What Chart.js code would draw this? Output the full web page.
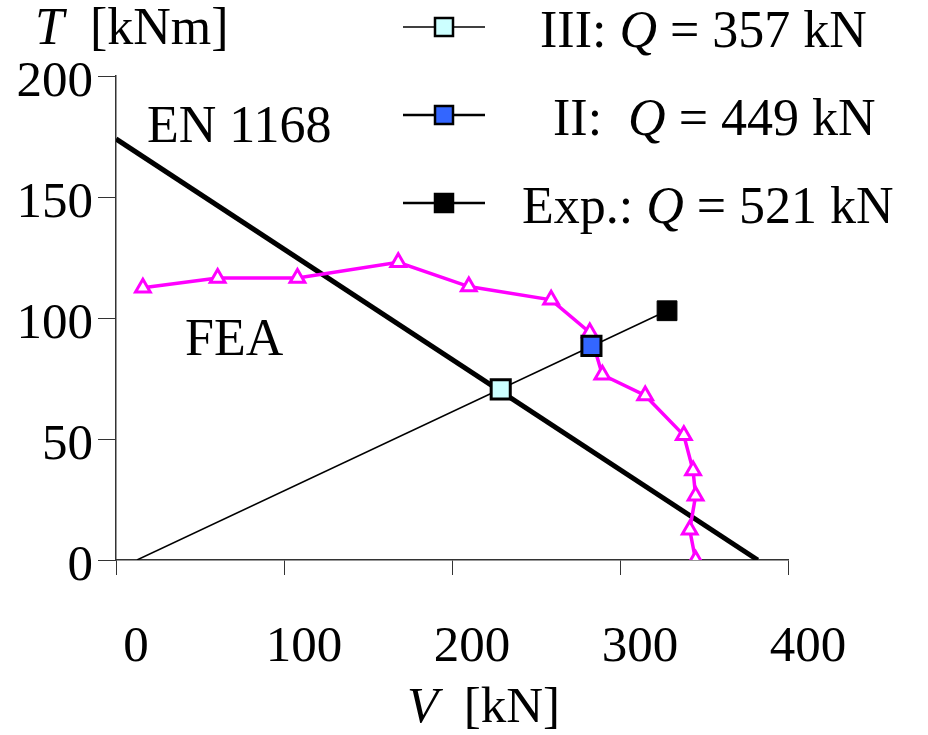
<!DOCTYPE html>
<html>
<head>
<meta charset="utf-8">
<script src="https://cdn.jsdelivr.net/npm/chart.js@4"></script>
<style>
    html, body { margin: 0; padding: 0; background: #fff; }
</style>
</head>
<body>
<canvas id="myChart" width="928" height="735"></canvas>
<script>
// EN 1168 interaction line
const enV = [0, 382];
const enT = [174, 0];

// load line through the three test points
const loadV = [12.5, 328];
const loadT = [0, 103];

// FEA curve
const feaV = [16, 60.5, 108, 168, 210, 259, 282, 289.5, 315, 338, 343.5, 345, 341.5, 345];
const feaT = [112.5, 116.5, 116.5, 123, 113, 107.5, 94, 76.5, 68, 51.5, 37, 26.5, 12.5, 0];

// test points
const testNames = ['III', 'II', 'Exp.'];
const testLoads = [357, 449, 521];
const testV = [229, 283, 328];
const testT = [70.5, 88.5, 103];
const testColors = ['#ccffff', '#3366ff', '#000000'];

const FONT = '"Liberation Serif", "Times New Roman", serif';

function pts(xs, ys) {
    return xs.map((x, i) => ({x: x, y: ys[i]}));
}

// draws a line of text made of [text, italic] parts
function drawRich(ctx, parts, x, y, size) {
    ctx.textBaseline = 'alphabetic';
    ctx.textAlign = 'left';
    parts.forEach(p => {
        ctx.font = (p[1] ? 'italic ' : '') + size + 'px ' + FONT;
        ctx.fillText(p[0], x, y);
        x += ctx.measureText(p[0]).width;
    });
}

const textPlugin = {
    id: 'texts',
    afterDraw(chart) {
        const ctx = chart.ctx;
        ctx.save();
        ctx.fillStyle = '#000';

        // axis titles
        drawRich(ctx, [['T', true], ['  [kNm]', false]], 35, 44, 52);
        drawRich(ctx, [['V', true], ['  [kN]', false]], 407, 722, 51);

        // curve labels
        drawRich(ctx, [['EN 1168', false]], 147, 142, 52);
        drawRich(ctx, [['FEA', false]], 185, 355, 52);

        // legend
        const rowY = [27, 115, 203];
        const textX = [540, 553, 522];
        testNames.forEach((name, i) => {
            const y = rowY[i];
            ctx.strokeStyle = '#000';
            ctx.lineWidth = i === 0 ? 1.5 : 2.5;
            ctx.beginPath();
            ctx.moveTo(403, y);
            ctx.lineTo(485, y);
            ctx.stroke();
            ctx.fillStyle = testColors[i];
            ctx.fillRect(435, y - 9, 18, 18);
            ctx.lineWidth = 2.5;
            ctx.strokeRect(435, y - 9, 18, 18);
            ctx.fillStyle = '#000';
            const sep = i === 1 ? ':  ' : ': ';
            drawRich(ctx, [[name + sep, false], ['Q', true], [' = ' + testLoads[i] + ' kN', false]],
                textX[i], y + 20, 52);
        });
        ctx.restore();
    }
};

new Chart(document.getElementById('myChart'), {
    type: 'scatter',
    data: {
        datasets: [
            {
                label: 'III',
                data: pts([testV[0]], [testT[0]]),
                pointStyle: 'rect',
                pointRadius: 13.5,
                backgroundColor: testColors[0],
                borderColor: '#000',
                borderWidth: 3,
                order: 1
            },
            {
                label: 'II',
                data: pts([testV[1]], [testT[1]]),
                pointStyle: 'rect',
                pointRadius: 13.5,
                backgroundColor: testColors[1],
                borderColor: '#000',
                borderWidth: 3,
                order: 1
            },
            {
                label: 'Exp.',
                data: pts([testV[2]], [testT[2]]),
                pointStyle: 'rect',
                pointRadius: 14,
                backgroundColor: testColors[2],
                borderColor: '#000',
                borderWidth: 1,
                order: 1
            },
            {
                label: 'FEA',
                data: pts(feaV, feaT),
                showLine: true,
                borderColor: '#ff00ff',
                borderWidth: 3.5,
                pointStyle: 'triangle',
                pointRadius: 8.5,
                pointBorderWidth: 3,
                pointBackgroundColor: '#fff',
                pointBorderColor: '#ff00ff',
                order: 2
            },
            {
                label: 'Load line',
                data: pts(loadV, loadT),
                showLine: true,
                borderColor: '#000',
                borderWidth: 1.5,
                pointRadius: 0,
                order: 3
            },
            {
                label: 'EN 1168',
                data: pts(enV, enT),
                showLine: true,
                borderColor: '#000',
                borderWidth: 5,
                pointRadius: 0,
                order: 4
            }
        ]
    },
    options: {
        responsive: false,
        animation: false,
        layout: {
            padding: {top: 76, right: 140, left: 0, bottom: 0}
        },
        plugins: {
            legend: {display: false},
            tooltip: {enabled: false}
        },
        scales: {
            x: {
                type: 'linear',
                min: 0,
                max: 400,
                ticks: {
                    stepSize: 100,
                    color: '#000',
                    font: {family: FONT, size: 51},
                    labelOffset: 20,
                    padding: 42,
                    maxRotation: 0
                },
                grid: {
                    drawOnChartArea: false,
                    tickLength: 15,
                    color: '#333'
                },
                border: {color: '#333', width: 1.5},
                afterFit: function (scale) {
                    scale.height = 175;
                }
            },
            y: {
                type: 'linear',
                min: 0,
                max: 200,
                ticks: {
                    stepSize: 50,
                    color: '#000',
                    font: {family: FONT, size: 51},
                    labelOffset: 7,
                    padding: 5
                },
                grid: {
                    drawOnChartArea: false,
                    tickLength: 18,
                    color: '#333'
                },
                border: {color: '#333', width: 1.5},
                afterFit: function (scale) {
                    scale.width = 116;
                }
            }
        }
    },
    plugins: [textPlugin]
});
</script>
</body>
</html>
